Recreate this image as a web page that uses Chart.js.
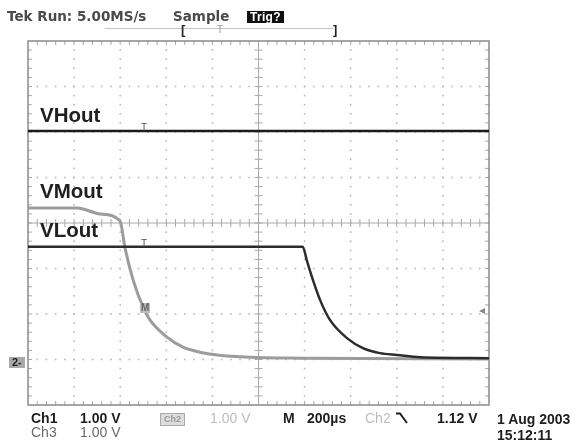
<!DOCTYPE html>
<html>
<head>
<meta charset="utf-8">
<script src="https://cdn.jsdelivr.net/npm/chart.js@4.4.0/dist/chart.umd.min.js"></script>
<style>
  body { margin: 0; background: #fff; }
  #wrap { position: relative; width: 582px; height: 442px; overflow: hidden; }
  #scope { position: absolute; left: 0; top: 0; }
  .t { position: absolute; white-space: nowrap; font-family: "Liberation Sans", Arial, sans-serif; font-weight: bold; }
</style>
</head>
<body>
<div id="wrap">
  <canvas id="scope" width="582" height="442"></canvas>
  <svg style="position:absolute;left:395px;top:412px" width="14" height="12">
    <path d="M1 1.5 H5 L12 11" fill="none" stroke="#1e1e1e" stroke-width="2"/>
  </svg>
</div>
<script>
// time axis in microseconds (200 us/div, 10 div), voltage axis in volts (1 V/div, 8 div)
const xTicks = [0, 200, 400, 600, 800, 1000, 1200, 1400, 1600, 1800, 2000];
const yTicks = [-4, -3, -2, -1, 0, 1, 2, 3, 4];

const vhTime = [0, 2000];
const vhVolt = [2.02, 2.02];

const vlTime = [0, 1192, 1209, 1236, 1267, 1310, 1384, 1453, 1527, 1601, 1701, 2000];
const vlVolt = [-0.52, -0.52, -0.81, -1.25, -1.69, -2.13, -2.53, -2.75, -2.86, -2.90, -2.95, -2.97];

const vmTime = [0, 213, 312, 399, 421, 456, 499, 529, 603, 672, 746, 820, 963, 1180, 2000];
const vmVolt = [0.33, 0.33, 0.20, 0.05, -0.55, -1.25, -1.85, -2.13, -2.51, -2.73, -2.84, -2.90, -2.95, -2.97, -2.99];

const toPts = (xs, ys) => xs.map((v, i) => ({ x: v, y: ys[i] }));

const graticule = {
  id: 'graticule',
  beforeDatasetsDraw(chart) {
    const { ctx, chartArea: a, scales: { x, y } } = chart;
    const dx = (x.getPixelForValue(200) - x.getPixelForValue(0)) / 5;
    const dy = (y.getPixelForValue(-1) - y.getPixelForValue(0)) / 5;
    const cx = x.getPixelForValue(1000);
    const cy = y.getPixelForValue(0);
    ctx.save();
    // dotted division lines
    ctx.fillStyle = '#b8b8b8';
    xTicks.slice(1, -1).forEach(t => {
      if (t === 1000) return;
      const px = x.getPixelForValue(t);
      for (let k = 1; k < 40; k++) ctx.fillRect(px - 0.8, a.top + k * dy - 0.8, 1.6, 1.6);
    });
    yTicks.slice(1, -1).forEach(v => {
      if (v === 0) return;
      const py = y.getPixelForValue(v);
      for (let k = 1; k < 50; k++) ctx.fillRect(a.left + k * dx - 0.8, py - 0.8, 1.6, 1.6);
    });
    // centre axes with minor ticks
    ctx.strokeStyle = '#a8a8a8';
    ctx.lineWidth = 1;
    ctx.beginPath();
    ctx.moveTo(cx, a.top); ctx.lineTo(cx, a.bottom);
    ctx.moveTo(a.left, cy); ctx.lineTo(a.right, cy);
    for (let k = 1; k < 40; k++) { ctx.moveTo(cx - 4, a.top + k * dy); ctx.lineTo(cx + 4, a.top + k * dy); }
    for (let k = 1; k < 50; k++) { ctx.moveTo(a.left + k * dx, cy - 4); ctx.lineTo(a.left + k * dx, cy + 4); }
    // border ticks
    for (let k = 1; k < 50; k++) {
      const px = a.left + k * dx;
      ctx.moveTo(px, a.top); ctx.lineTo(px, a.top + 4);
      ctx.moveTo(px, a.bottom); ctx.lineTo(px, a.bottom - 4);
    }
    for (let k = 1; k < 40; k++) {
      const py = a.top + k * dy;
      ctx.moveTo(a.left, py); ctx.lineTo(a.left + 4, py);
      ctx.moveTo(a.right, py); ctx.lineTo(a.right - 4, py);
    }
    ctx.stroke();
    ctx.strokeStyle = '#8a8a8a';
    ctx.lineWidth = 1.5;
    ctx.strokeRect(a.left, a.top, a.width, a.height);
    ctx.restore();
  }
};

new Chart(document.getElementById('scope'), {
  type: 'line',
  data: {
    datasets: [
      { label: 'VHout', data: toPts(vhTime, vhVolt), borderColor: '#1c1c1c', borderWidth: 2.5, order: 1 },
      { label: 'VLout', data: toPts(vlTime, vlVolt), borderColor: '#2c2c2c', borderWidth: 2.5, order: 2, cubicInterpolationMode: 'monotone' },
      { label: 'VMout', data: toPts(vmTime, vmVolt), borderColor: '#9c9c9c', borderWidth: 3, order: 3, cubicInterpolationMode: 'monotone' }
    ]
  },
  options: {
    responsive: false,
    animation: false,
    events: [],
    layout: { padding: { left: 28, top: 41, right: 93, bottom: 37 } },
    elements: { point: { radius: 0 } },
    plugins: { legend: { display: false }, tooltip: { enabled: false } },
    scales: {
      x: { type: 'linear', min: 0, max: 2000, display: false },
      y: { type: 'linear', min: -4, max: 4, display: false }
    }
  },
  plugins: [graticule]
});

// readouts and labels (x, baseline, size, colour)
const wrap = document.getElementById('wrap');
function place(text, x, base, size, color, extra) {
  const d = document.createElement('div');
  d.className = 't';
  d.textContent = text;
  d.style.left = x + 'px';
  d.style.top = (base - 0.846 * size) + 'px';
  d.style.fontSize = size + 'px';
  d.style.lineHeight = size + 'px';
  d.style.color = color;
  if (extra) Object.assign(d.style, extra);
  wrap.appendChild(d);
  return d;
}

const dv = { fontFamily: '"DejaVu Sans", sans-serif' };
place('Tek Run: 5.00MS/s', 7, 21, 13.5, '#4a4a4a', dv);
place('Sample', 173, 21, 13.5, '#4a4a4a', dv);
place('Trig?', 247, 21, 12, '#fff', { background: '#111', padding: '0 3px', letterSpacing: '0.3px' });

// record bar
const bar = document.createElement('div');
Object.assign(bar.style, { position: 'absolute', left: '105px', top: '28px', width: '228px', height: '1px', background: '#c4c4c4' });
wrap.appendChild(bar);
place('[', 181, 34, 13, '#222');
place('T', 217, 33, 10, '#999', { fontWeight: 'normal' });
place(']', 333, 34, 13, '#222');

// trace labels and markers
place('VHout', 40, 122, 20.5, '#202020');
place('VMout', 40, 198, 20.5, '#202020');
place('VLout', 40, 237, 20.5, '#202020');
place('T', 141, 131, 10, '#555', { fontWeight: 'normal' });
place('T', 141, 247, 10, '#555', { fontWeight: 'normal' });
place('M', 140, 311, 10, '#666', { background: '#bdbdbd', padding: '0 1px' });
place('2-', 9, 366, 11, '#222', { background: '#a9a9a9', padding: '0 3px 0 3px' });
place('\u25C2', 479, 314, 12, '#888', { fontWeight: 'normal', fontFamily: '"DejaVu Sans", sans-serif' });

// bottom readouts
place('Ch1', 31, 423, 14, '#1e1e1e');
place('1.00 V', 80, 423, 14, '#1e1e1e');
place('Ch2', 160, 421, 9, '#999', { border: '1px solid #aaa', background: '#ddd', padding: '1px 3px' });
place('1.00 V', 210, 423, 14, '#bdbdbd', { fontWeight: 'normal' });
place('M', 283, 423, 14, '#1e1e1e');
place('200\u00B5s', 307, 423, 14, '#1e1e1e');
place('Ch2', 365, 423, 14, '#bdbdbd', { fontWeight: 'normal' });
place('1.12 V', 437, 423, 14, '#1e1e1e');
place('1 Aug 2003', 497, 424, 14, '#1e1e1e');
place('Ch3', 31, 437, 14, '#6a6a6a', { fontWeight: 'normal' });
place('1.00 V', 80, 437, 14, '#6a6a6a', { fontWeight: 'normal' });
place('15:12:11', 497, 440, 14, '#1e1e1e');
</script>
</body>
</html>
